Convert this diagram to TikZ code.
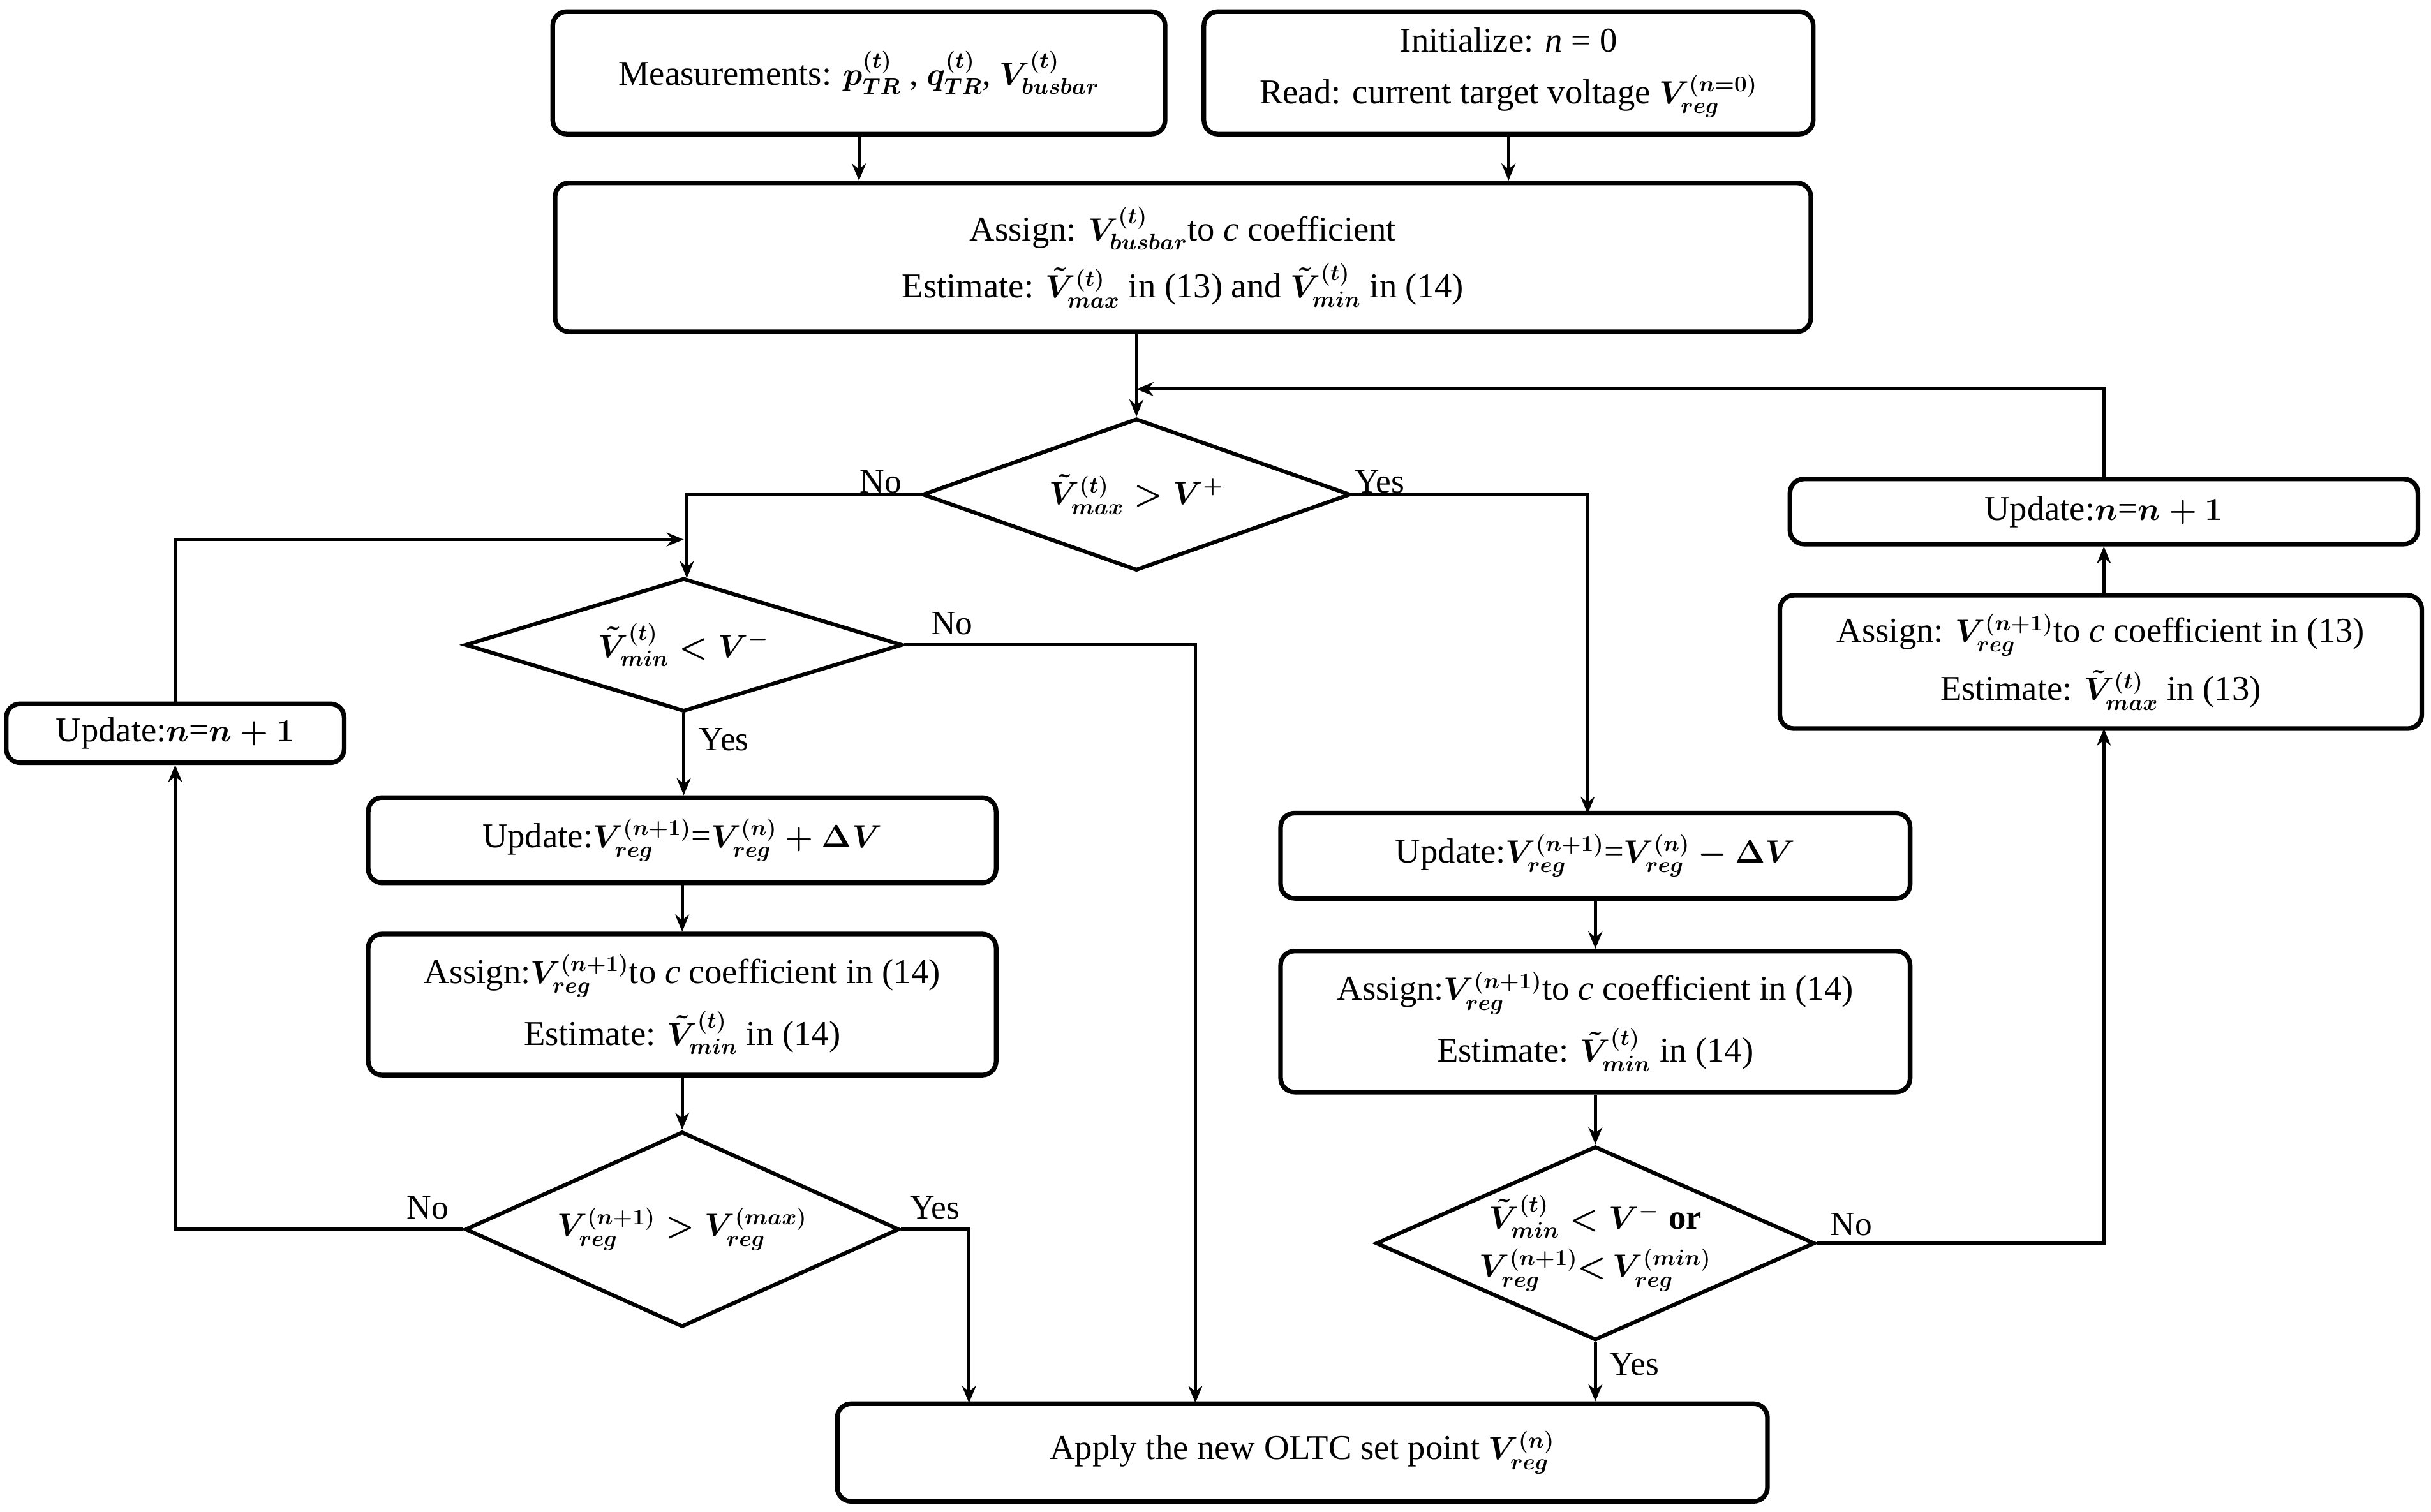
\documentclass[tikz,border=0pt]{standalone}
\usepackage{amsmath}
\usepackage{fontspec}
\setmainfont{Liberation Serif}
\usetikzlibrary{shapes.geometric,arrows.meta}
\begin{document}
\begin{tikzpicture}[x=1pt,y=-1pt,
  every node/.style={font=\fontsize{22.5}{27}\selectfont\boldmath},
  box/.style={draw,line width=3pt,rounded corners=9pt,align=center,inner sep=0pt},
  dia/.style={draw,line width=2.5pt,diamond,inner sep=0pt},
  lab/.style={font=\fontsize{22}{26}\selectfont},
  ar/.style={line width=2pt,-{Stealth[length=11pt,width=9pt]}},
  ln/.style={line width=2pt}]
\useasboundingbox (0,0) rectangle (1568,975);
\node[box,minimum width=395,minimum height=79] (m) at (554,47) {Measurements: $p_{TR}^{(t)}$ , $q_{TR}^{(t)}$, $V_{busbar}^{(t)}$};
\node[box,minimum width=393,minimum height=79] (init) at (973,47) {Initialize: \textit{n} = 0\\[6pt]Read: current target voltage $V_{reg}^{(n=0)}$};
\node[box,minimum width=810,minimum height=96] (a) at (763,166) {Assign: $V_{busbar}^{(t)}$to \textit{c} coefficient\\[8pt]Estimate: $\tilde V_{max}^{(t)}$ in (13) and $\tilde V_{min}^{(t)}$ in (14)};
\node[dia,minimum width=276,minimum height=98] (d1) at (733,319) {};
\node at (d1) {$\tilde V_{max}^{(t)} > V^{+}$};
\node[box,minimum width=405,minimum height=42] (utr) at (1357,330) {Update:$n$=$n+1$};
\node[box,minimum width=414,minimum height=86] (atr) at (1355,427) {Assign: $V_{reg}^{(n+1)}$to \textit{c} coefficient in (13)\\[8pt]Estimate: $\tilde V_{max}^{(t)}$ in (13)};
\node[box,minimum width=218,minimum height=38] (ul) at (113,473) {Update:$n$=$n+1$};
\node[dia,minimum width=282,minimum height=86] (d2) at (441,416) {};
\node at (d2) {$\tilde V_{min}^{(t)} < V^{-}$};
\node[box,minimum width=405,minimum height=55] (u1) at (440,542) {Update:$V_{reg}^{(n+1)}$=$V_{reg}^{(n)}+\Delta V$};
\node[box,minimum width=405,minimum height=91] (a1) at (440,648) {Assign:$V_{reg}^{(n+1)}$to \textit{c} coefficient in (14)\\[8pt]Estimate: $\tilde V_{min}^{(t)}$ in (14)};
\node[dia,minimum width=280,minimum height=126] (d3) at (440,793) {};
\node at (d3) {$V_{reg}^{(n+1)} > V_{reg}^{(max)}$};
\node[box,minimum width=406,minimum height=55] (u2) at (1029,552) {Update:$V_{reg}^{(n+1)}$=$V_{reg}^{(n)}-\Delta V$};
\node[box,minimum width=406,minimum height=91] (a2) at (1029,659) {Assign:$V_{reg}^{(n+1)}$to \textit{c} coefficient in (14)\\[8pt]Estimate: $\tilde V_{min}^{(t)}$ in (14)};
\node[dia,minimum width=283,minimum height=125] (d4) at (1029,802) {};
\node[align=center] at (d4) {$\tilde V_{min}^{(t)} < V^{-}$ \textbf{or}\\[4pt]$V_{reg}^{(n+1)}{<}\,V_{reg}^{(min)}$};
\node[box,minimum width=600,minimum height=63] (ap) at (840,937) {Apply the new OLTC set point $V_{reg}^{(n)}$};
% connectors
\draw[ar] (m.south) -- (m.south|-a.north);
\draw[ar] (init.south) -- (init.south|-a.north);
\draw[ar] (a.south-|d1.north) -- (d1.north);
\draw[ar] (utr.north) -- (1357,251) -- (733,251);
\draw[ar] (d1.west) -- (443,319) -- (443,373);
\draw[ar] (ul.north) -- (113,348) -- (441,348);
\draw[ar] (d2.east) -- (771,416) -- (771,905);
\draw[ar] (d2.south) -- (d2.south|-u1.north);
\draw[ar] (u1.south) -- (a1.north);
\draw[ar] (a1.south) -- (d3.north);
\draw[ar] (d3.west) -- (113,793) -- (ul.south);
\draw[ar] (d3.east) -- (625,793) -- (625,905);
\draw[ar] (d1.east) -- (1024,319) -- (1024,525);
\draw[ar] (u2.south) -- (a2.north);
\draw[ar] (a2.south) -- (d4.north);
\draw[ar] (d4.south) -- (ap.north-|d4.south);
\draw[ar] (d4.east) -- (1357,802) -- (1357,470);
\draw[ar] (atr.north-|utr.south) -- (utr.south);
% labels
\node[lab] at (568,311) {No};
\node[lab] at (890,311) {Yes};
\node[lab] at (614,402) {No};
\node[lab] at (467,477) {Yes};
\node[lab] at (276,779) {No};
\node[lab] at (603,779) {Yes};
\node[lab] at (1194,790) {No};
\node[lab] at (1054,880) {Yes};
\end{tikzpicture}
\end{document}
